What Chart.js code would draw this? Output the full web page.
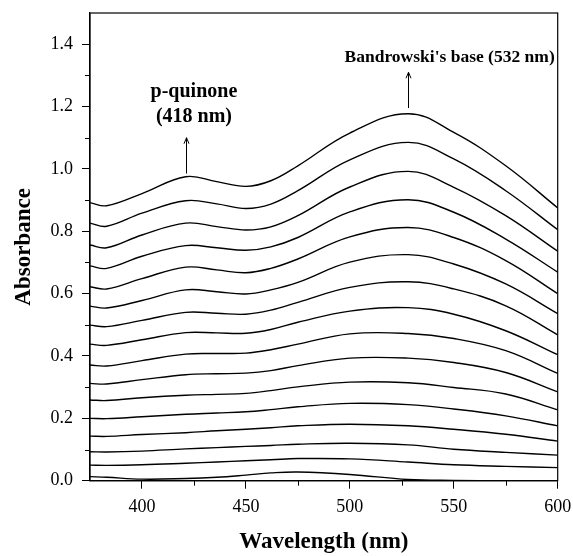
<!DOCTYPE html>
<html>
<head>
<meta charset="utf-8">
<script src="https://cdn.jsdelivr.net/npm/chart.js@4.4.1/dist/chart.umd.min.js"></script>
<style>
  body { margin: 0; background: #fff; }
  #wrap { width: 573px; height: 556px; }
</style>
</head>
<body>
<div id="wrap"><canvas id="myChart"></canvas></div>
<script>
// wavelengths (nm) where the spectra were read
const wavelengths = [375, 383, 400, 421, 436, 450, 462, 475, 500, 528, 550, 575, 600];

// absorbance of each successive scan, top curve first
const spectra = [
    [0.892, 0.882, 0.921, 0.975, 0.959, 0.944, 0.962, 1.010, 1.115, 1.177, 1.117, 1.010, 0.875],
    [0.826, 0.816, 0.858, 0.898, 0.888, 0.873, 0.887, 0.930, 1.029, 1.085, 1.032, 0.930, 0.805],
    [0.756, 0.747, 0.788, 0.826, 0.815, 0.804, 0.814, 0.850, 0.942, 0.992, 0.941, 0.850, 0.736],
    [0.689, 0.681, 0.720, 0.754, 0.747, 0.739, 0.750, 0.780, 0.862, 0.901, 0.861, 0.775, 0.669],
    [0.622, 0.615, 0.648, 0.685, 0.676, 0.667, 0.681, 0.711, 0.782, 0.812, 0.780, 0.706, 0.600],
    [0.560, 0.554, 0.578, 0.612, 0.606, 0.599, 0.612, 0.636, 0.701, 0.725, 0.695, 0.631, 0.536],
    [0.499, 0.494, 0.514, 0.540, 0.537, 0.534, 0.547, 0.572, 0.620, 0.638, 0.615, 0.561, 0.468],
    [0.438, 0.434, 0.452, 0.475, 0.474, 0.473, 0.485, 0.508, 0.544, 0.555, 0.534, 0.481, 0.404],
    [0.371, 0.368, 0.385, 0.406, 0.408, 0.409, 0.420, 0.438, 0.471, 0.472, 0.456, 0.417, 0.344],
    [0.312, 0.310, 0.324, 0.340, 0.343, 0.345, 0.353, 0.369, 0.393, 0.393, 0.379, 0.347, 0.285],
    [0.259, 0.257, 0.266, 0.274, 0.277, 0.280, 0.289, 0.301, 0.316, 0.314, 0.299, 0.278, 0.227],
    [0.200, 0.199, 0.205, 0.213, 0.217, 0.221, 0.228, 0.237, 0.248, 0.244, 0.230, 0.208, 0.176],
    [0.143, 0.142, 0.148, 0.154, 0.160, 0.165, 0.170, 0.176, 0.181, 0.176, 0.165, 0.149, 0.127],
    [0.093, 0.092, 0.095, 0.102, 0.106, 0.110, 0.113, 0.117, 0.120, 0.115, 0.101, 0.091, 0.082],
    [0.050, 0.049, 0.051, 0.056, 0.060, 0.064, 0.067, 0.071, 0.070, 0.060, 0.051, 0.046, 0.042],
    [0.013, 0.011, 0.005, 0.007, 0.011, 0.018, 0.025, 0.028, 0.020, 0.004, 0.001, 0.000, 0.000]
];

const xTicks = [400, 450, 500, 550, 600];
const xMinorTicks = [425, 475, 525, 575];
const yTicks = [0, 0.2, 0.4, 0.6, 0.8, 1.0, 1.2, 1.4];
const yMinorTicks = [0.1, 0.3, 0.5, 0.7, 0.9, 1.1, 1.3];

// peak markers: arrow from/to absorbance at a wavelength, and label anchors
const peakArrows = [
    { x: 421.2, from: 0.985, to: 1.10 },
    { x: 527.8, from: 1.195, to: 1.31 }
];
const peakLabels = [
    { text: 'p-quinone', x: 425.0, y: 1.248, size: 20 },
    { text: '(418 nm)', x: 425.0, y: 1.166, size: 20 },
    { text: "Bandrowski's base (532 nm)", x: 548.0, y: 1.358, size: 17.5 }
];

const serif = "'Liberation Serif', 'Times New Roman', serif";

const extras = {
    id: 'extras',
    afterDatasetsDraw(chart) {
        const ctx = chart.ctx;
        const a = chart.chartArea;
        const x = chart.scales.x;
        const y = chart.scales.y;
        ctx.save();
        ctx.strokeStyle = '#000';
        ctx.lineWidth = 1.2;
        ctx.strokeRect(a.left, a.top, a.right - a.left, a.bottom - a.top);

        // minor ticks
        ctx.lineWidth = 1;
        ctx.beginPath();
        xMinorTicks.forEach(function(v) {
            const px = Math.round(x.getPixelForValue(v)) + 0.5;
            ctx.moveTo(px, a.bottom);
            ctx.lineTo(px, a.bottom + 5);
        });
        yMinorTicks.forEach(function(v) {
            const py = Math.round(y.getPixelForValue(v)) + 0.5;
            ctx.moveTo(a.left - 5, py);
            ctx.lineTo(a.left, py);
        });
        ctx.stroke();

        // arrows
        peakArrows.forEach(function(p) {
            const px = Math.round(x.getPixelForValue(p.x)) + 0.5;
            const y0 = y.getPixelForValue(p.from);
            const y1 = y.getPixelForValue(p.to);
            ctx.beginPath();
            ctx.moveTo(px, y0);
            ctx.lineTo(px, y1);
            ctx.moveTo(px - 2.5, y1 + 6);
            ctx.lineTo(px, y1);
            ctx.lineTo(px + 2.5, y1 + 6);
            ctx.stroke();
        });

        ctx.fillStyle = '#000';
        ctx.textAlign = 'center';
        ctx.textBaseline = 'middle';
        peakLabels.forEach(function(t) {
            ctx.font = 'bold ' + t.size + 'px ' + serif;
            ctx.fillText(t.text, x.getPixelForValue(t.x), y.getPixelForValue(t.y));
        });
        ctx.restore();
    }
};

const datasets = spectra.map(function(row) {
    return {
        data: wavelengths.map(function(w, i) { return { x: w, y: row[i] }; }),
        borderColor: '#000',
        borderWidth: 1.4,
        pointRadius: 0,
        fill: false,
        tension: 0.4
    };
});

const ctx = document.getElementById('myChart').getContext('2d');
const myChart = new Chart(ctx, {
    type: 'line',
    data: { datasets: datasets },
    plugins: [extras],
    options: {
        responsive: true,
        maintainAspectRatio: false,
        animation: false,
        layout: { padding: { top: 13, right: 15.3, left: 0, bottom: 0 } },
        plugins: {
            legend: { display: false },
            tooltip: { enabled: false }
        },
        scales: {
            x: {
                type: 'linear',
                min: 375,
                max: 600,
                afterBuildTicks: function(scale) {
                    scale.ticks = xTicks.map(function(v) { return { value: v }; });
                },
                afterFit: function(scale) {
                    scale.height = 75.3;
                    scale.paddingLeft = 0;
                    scale.paddingRight = 0;
                },
                grid: { drawOnChartArea: false, tickLength: 8, color: '#000', tickWidth: 1 },
                border: { display: true, color: '#000', width: 1.2 },
                ticks: {
                    color: '#000',
                    padding: 8,
                    maxRotation: 0,
                    font: { family: serif, size: 18 },
                    callback: function(v) { return String(v); }
                },
                title: {
                    display: true,
                    text: 'Wavelength (nm)',
                    color: '#000',
                    padding: { top: 0, bottom: 0 },
                    font: { family: serif, size: 23, weight: 'bold' }
                }
            },
            y: {
                min: 0,
                max: 1.5,
                afterBuildTicks: function(scale) {
                    scale.ticks = yTicks.map(function(v) { return { value: v }; });
                },
                afterFit: function(scale) {
                    scale.width = 90;
                    scale.paddingTop = 0;
                    scale.paddingBottom = 0;
                },
                grid: { drawOnChartArea: false, tickLength: 8, color: '#000', tickWidth: 1 },
                border: { display: true, color: '#000', width: 1.2 },
                ticks: {
                    color: '#000',
                    padding: 9,
                    font: { family: serif, size: 18 },
                    callback: function(v) { return Number(v).toFixed(1); }
                },
                title: {
                    display: true,
                    text: 'Absorbance',
                    color: '#000',
                    padding: { top: 10, bottom: 0 },
                    font: { family: serif, size: 23, weight: 'bold' }
                }
            }
        }
    }
});
</script>
</body>
</html>
